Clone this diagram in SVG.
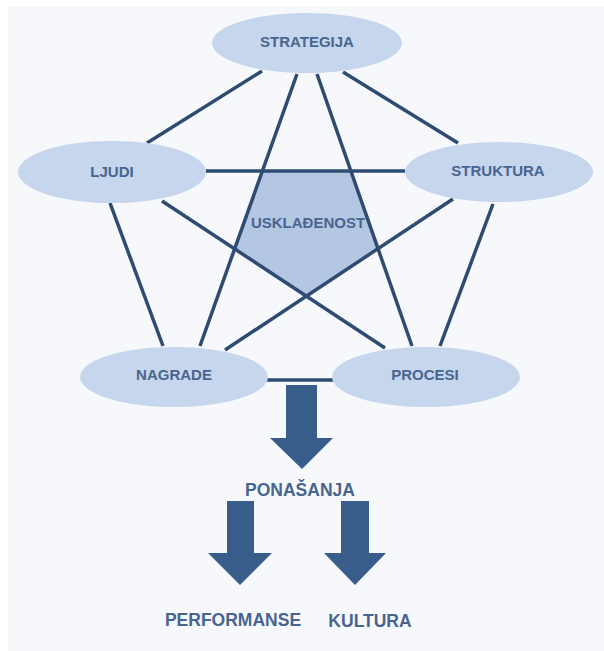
<svg xmlns="http://www.w3.org/2000/svg" width="604" height="651" viewBox="0 0 604 651">
<style>
.bg{fill:#f6f8fb}
.node{fill:#c6d6ec}
.core{fill:#b3c7e3}
.lbl{font-family:"Liberation Sans",Arial,sans-serif;font-weight:bold;font-size:15px;fill:#48658f;text-anchor:middle}
.big{font-size:17.5px}
.edge{stroke:#2e4b72;stroke-width:3.5;fill:none;stroke-linecap:butt}
.arrow{fill:#385d8a}
</style>
<rect x="0" y="0" width="604" height="651" fill="#ffffff"/>
<rect class="bg" x="8" y="7" width="596" height="644"/>

<g id="usklađenost">
<polygon class="core" points="262.4,171 350.9,171 378,248.7 306.3,296.1 234.6,248.9"/>
</g>

<g id="connectors">
<line class="edge" x1="262" y1="71" x2="147" y2="143"/>
<line class="edge" x1="343" y1="72" x2="458" y2="143"/>
<line class="edge" x1="297" y1="74" x2="200" y2="346"/>
<line class="edge" x1="317" y1="74" x2="412" y2="346"/>
<line class="edge" x1="206" y1="171" x2="405" y2="171"/>
<line class="edge" x1="162" y1="201" x2="385" y2="348"/>
<line class="edge" x1="453" y1="199" x2="225" y2="350"/>
<line class="edge" x1="110" y1="203" x2="163" y2="346"/>
<line class="edge" x1="493" y1="204" x2="440" y2="346"/>
<line class="edge" x1="267" y1="380" x2="333" y2="380"/>
</g>

<g id="strategija">
<ellipse class="node" cx="307" cy="43" rx="95" ry="30"/>
<text class="lbl" x="307" y="46.5">STRATEGIJA</text>
</g>
<g id="ljudi">
<ellipse class="node" cx="112" cy="172" rx="94" ry="31"/>
<text class="lbl" x="112" y="177">LJUDI</text>
</g>
<g id="struktura">
<ellipse class="node" cx="499" cy="172" rx="94" ry="30"/>
<text class="lbl" x="498" y="175.5">STRUKTURA</text>
</g>
<g id="nagrade">
<ellipse class="node" cx="174" cy="377" rx="94" ry="30"/>
<text class="lbl" x="174" y="379.5">NAGRADE</text>
</g>
<g id="procesi">
<ellipse class="node" cx="426" cy="377" rx="94" ry="30"/>
<text class="lbl" x="425" y="379.5">PROCESI</text>
</g>
<g id="usklađenost-label">
<text class="lbl" x="308" y="227.5">USKLAĐENOST</text>
</g>

<g id="arrows">
<polygon class="arrow" points="286,385 317,385 317,438 333,438 302,469 270,438 286,438"/>
<polygon class="arrow" points="227,501 254,501 254,553 272,553 240,585 208,553 227,553"/>
<polygon class="arrow" points="341,501 369,501 369,553 386,553 355,585 324,553 341,553"/>
</g>

<g id="ponasanja">
<text class="lbl big" x="300" y="496">PONAŠANJA</text>
</g>
<g id="performanse">
<text class="lbl big" x="233" y="626">PERFORMANSE</text>
</g>
<g id="kultura">
<text class="lbl big" x="370" y="627">KULTURA</text>
</g>
</svg>
